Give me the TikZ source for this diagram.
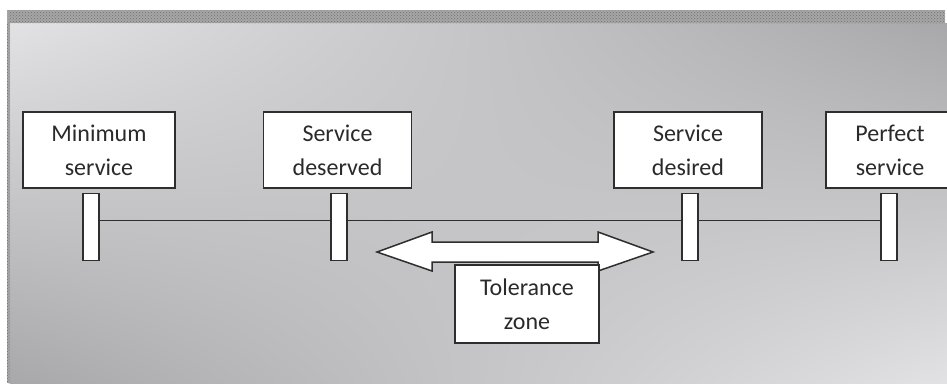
\documentclass[tikz,border=0pt]{standalone}
\usepackage{fontspec}
\setmainfont{Carlito}
\usetikzlibrary{positioning,patterns,shadings}
\definecolor{inkgray}{HTML}{2E2E2E}
\definecolor{textgray}{HTML}{2A2A2A}
\definecolor{lightbg}{HTML}{E2E2E4}
\definecolor{darkbg}{HTML}{A8A8AA}
\definecolor{edgegray}{HTML}{A6A6A6}
\definecolor{dotgray}{HTML}{6E6E6E}

\begin{document}
\begin{tikzpicture}[x=1pt,y=-1pt,node distance=4pt,
		sign/.style={draw=inkgray,fill=white,line width=1.5pt,minimum width=152pt,minimum height=76pt,
			align=center,text=textgray,font=\fontsize{24}{34}\selectfont},
		post/.style={draw=inkgray,fill=white,line width=1.5pt,minimum width=16pt,minimum height=67pt,inner sep=0pt},
		rail/.style={draw=inkgray,line width=1.5pt},
		zonearrow/.style={draw=inkgray,fill=white,line width=1.5pt,line join=miter}]
				\useasboundingbox (0,0) rectangle (947,383);
				% panel
				\fill[white] (0,0) rectangle (947,383);
				\shade[upper left=lightbg,upper right=darkbg,lower left=darkbg,lower right=lightbg] (10,23) rectangle (947,383);
				\fill[edgegray] (8,10) rectangle (945,23);
				\fill[edgegray] (7,10) rectangle (10,383);
				\fill[pattern=crosshatch dots,pattern color=dotgray] (8,10) rectangle (945,23);
				\fill[pattern=crosshatch dots,pattern color=dotgray] (7,23) rectangle (10,383);
				% signs
				\node[sign] (b_1) at (99,150) {Minimum\\service};
				\node[sign,minimum width=148pt] (b_2) at (337.5,150) {Service\\deserved};
				\node[sign,minimum width=148pt] (b_3) at (688,150) {Service\\desired};
				\node[sign,minimum width=128pt] (b_4) at (890,150) {Perfect\\service};
				% posts
				\node[post] (p_1) [below=of b_1,xshift=-8pt] {};
				\node[post] (p_2) [below=of b_2,xshift=1.5pt] {};
				\node[post] (p_3) [below=of b_3,xshift=2pt] {};
				\node[post] (p_4) [below=of b_4,xshift=-1pt] {};
				\path[rail]
				([yshift=6.5pt]p_1.east) edge ([yshift=6.5pt]p_2.west)
				([yshift=6.5pt]p_2.east) edge ([yshift=6.5pt]p_3.west)
				([yshift=6.5pt]p_3.east) edge ([yshift=6.5pt]p_4.west);
				% tolerance
				\coordinate (zone) at (515,252);
				\draw[zonearrow,shift={(zone)}] (-138,0) -- (-83,-20) -- (-83,-10) -- (83,-10) -- (83,-20)
				-- (138,0) -- (83,19) -- (83,10) -- (-83,10) -- (-83,19) -- cycle;
				\node[sign,minimum width=144pt,minimum height=78pt] (t_1) at (527,304) {Tolerance\\zone};
			\end{tikzpicture}
\end{document}
